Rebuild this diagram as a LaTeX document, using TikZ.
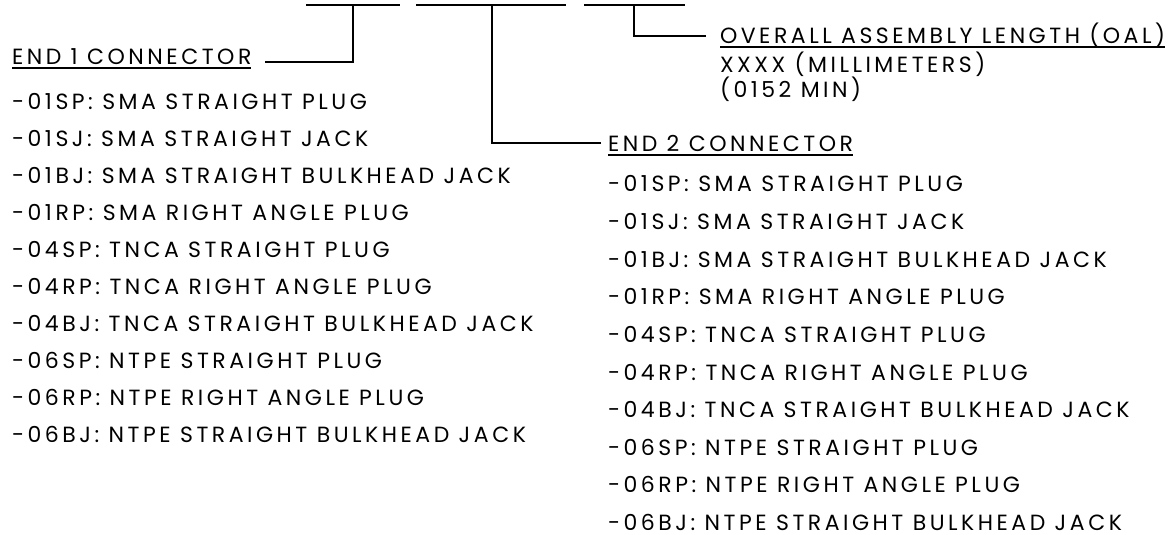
\documentclass[tikz,border=0pt]{standalone}
\usepackage{fontspec}
\setmainfont{Poppins}[LetterSpace=16]
\usetikzlibrary{positioning}

\begin{document}
\begin{tikzpicture}[
  x=0.5pt, y=-0.5pt,
  every node/.style={font=\fontsize{11}{12}\selectfont},
  heading/.style={inner sep=0pt, outer sep=0pt, text height=7.5pt, text depth=0pt, anchor=base west},
  entry/.style={inner sep=0pt, outer sep=0pt, text height=7.5pt, text depth=0pt},
  leader/.style={line width=0.6pt}
]
\useasboundingbox (0,0) rectangle (1175,535);

% tick marks of the part number
\coordinate (t1a) at (306,5);
\coordinate (t1b) at (400,5);
\coordinate (t2a) at (416,5);
\coordinate (t2b) at (566,5);
\coordinate (t3a) at (584,5);
\coordinate (t3b) at (685,5);
\coordinate (k1) at (353,5);
\coordinate (k2) at (492,5);
\coordinate (k3) at (634,5);
\draw[leader] (t1a) -- (t1b);
\draw[leader] (t2a) -- (t2b);
\draw[leader] (t3a) -- (t3b);

% end 1
\node[heading] (end1) at (12,65) {END 1 CONNECTOR};
\node[entry, below=15pt of end1.south west, anchor=north west] (a1) {-01SP: SMA STRAIGHT PLUG};
\node[entry, below=11pt of a1.south west, anchor=north west] (a2) {-01SJ: SMA STRAIGHT JACK};
\node[entry, below=11pt of a2.south west, anchor=north west] (a3) {-01BJ: SMA STRAIGHT BULKHEAD JACK};
\node[entry, below=11pt of a3.south west, anchor=north west] (a4) {-01RP: SMA RIGHT ANGLE PLUG};
\node[entry, below=11pt of a4.south west, anchor=north west] (a5) {-04SP: TNCA STRAIGHT PLUG};
\node[entry, below=11pt of a5.south west, anchor=north west] (a6) {-04RP: TNCA RIGHT ANGLE PLUG};
\node[entry, below=11pt of a6.south west, anchor=north west] (a7) {-04BJ: TNCA STRAIGHT BULKHEAD JACK};
\node[entry, below=11pt of a7.south west, anchor=north west] (a8) {-06SP: NTPE STRAIGHT PLUG};
\node[entry, below=11pt of a8.south west, anchor=north west] (a9) {-06RP: NTPE RIGHT ANGLE PLUG};
\node[entry, below=11pt of a9.south west, anchor=north west] (a10) {-06BJ: NTPE STRAIGHT BULKHEAD JACK};

% overall length
\node[heading] (oal) at (720,44) {OVERALL ASSEMBLY LENGTH (OAL)};
\node[heading] (mm) at (720,73) {XXXX (MILLIMETERS)};
\node[heading] (min) at (720,98) {(0152 MIN)};

% end 2
\node[heading] (end2) at (608,152) {END 2 CONNECTOR};
\node[entry, below=12.5pt of end2.south west, anchor=north west] (b1) {-01SP: SMA STRAIGHT PLUG};
\node[entry, below=11.3pt of b1.south west, anchor=north west] (b2) {-01SJ: SMA STRAIGHT JACK};
\node[entry, below=11.3pt of b2.south west, anchor=north west] (b3) {-01BJ: SMA STRAIGHT BULKHEAD JACK};
\node[entry, below=11.3pt of b3.south west, anchor=north west] (b4) {-01RP: SMA RIGHT ANGLE PLUG};
\node[entry, below=11.3pt of b4.south west, anchor=north west] (b5) {-04SP: TNCA STRAIGHT PLUG};
\node[entry, below=11.3pt of b5.south west, anchor=north west] (b6) {-04RP: TNCA RIGHT ANGLE PLUG};
\node[entry, below=11.3pt of b6.south west, anchor=north west] (b7) {-04BJ: TNCA STRAIGHT BULKHEAD JACK};
\node[entry, below=11.3pt of b7.south west, anchor=north west] (b8) {-06SP: NTPE STRAIGHT PLUG};
\node[entry, below=11.3pt of b8.south west, anchor=north west] (b9) {-06RP: NTPE RIGHT ANGLE PLUG};
\node[entry, below=11.3pt of b9.south west, anchor=north west] (b10) {-06BJ: NTPE STRAIGHT BULKHEAD JACK};

% underlines
\draw[leader] ([yshift=-1.5pt]end1.south west) -- ([yshift=-1.5pt]end1.south east);
\draw[leader] ([yshift=-1.5pt]end2.south west) -- ([yshift=-1.5pt]end2.south east);
\draw[leader] ([yshift=-1.5pt]oal.south west) -- ([yshift=-1.5pt]oal.south east);

% leaders
\draw[leader] ([xshift=7pt,yshift=1.5pt]end1.south east) -| (k1);
\draw[leader] ([xshift=-3.5pt,yshift=4.5pt]end2.south west) -| (k2);
\draw[leader] ([xshift=-7pt,yshift=4pt]oal.south west) -| (k3);
\end{tikzpicture}
\end{document}
